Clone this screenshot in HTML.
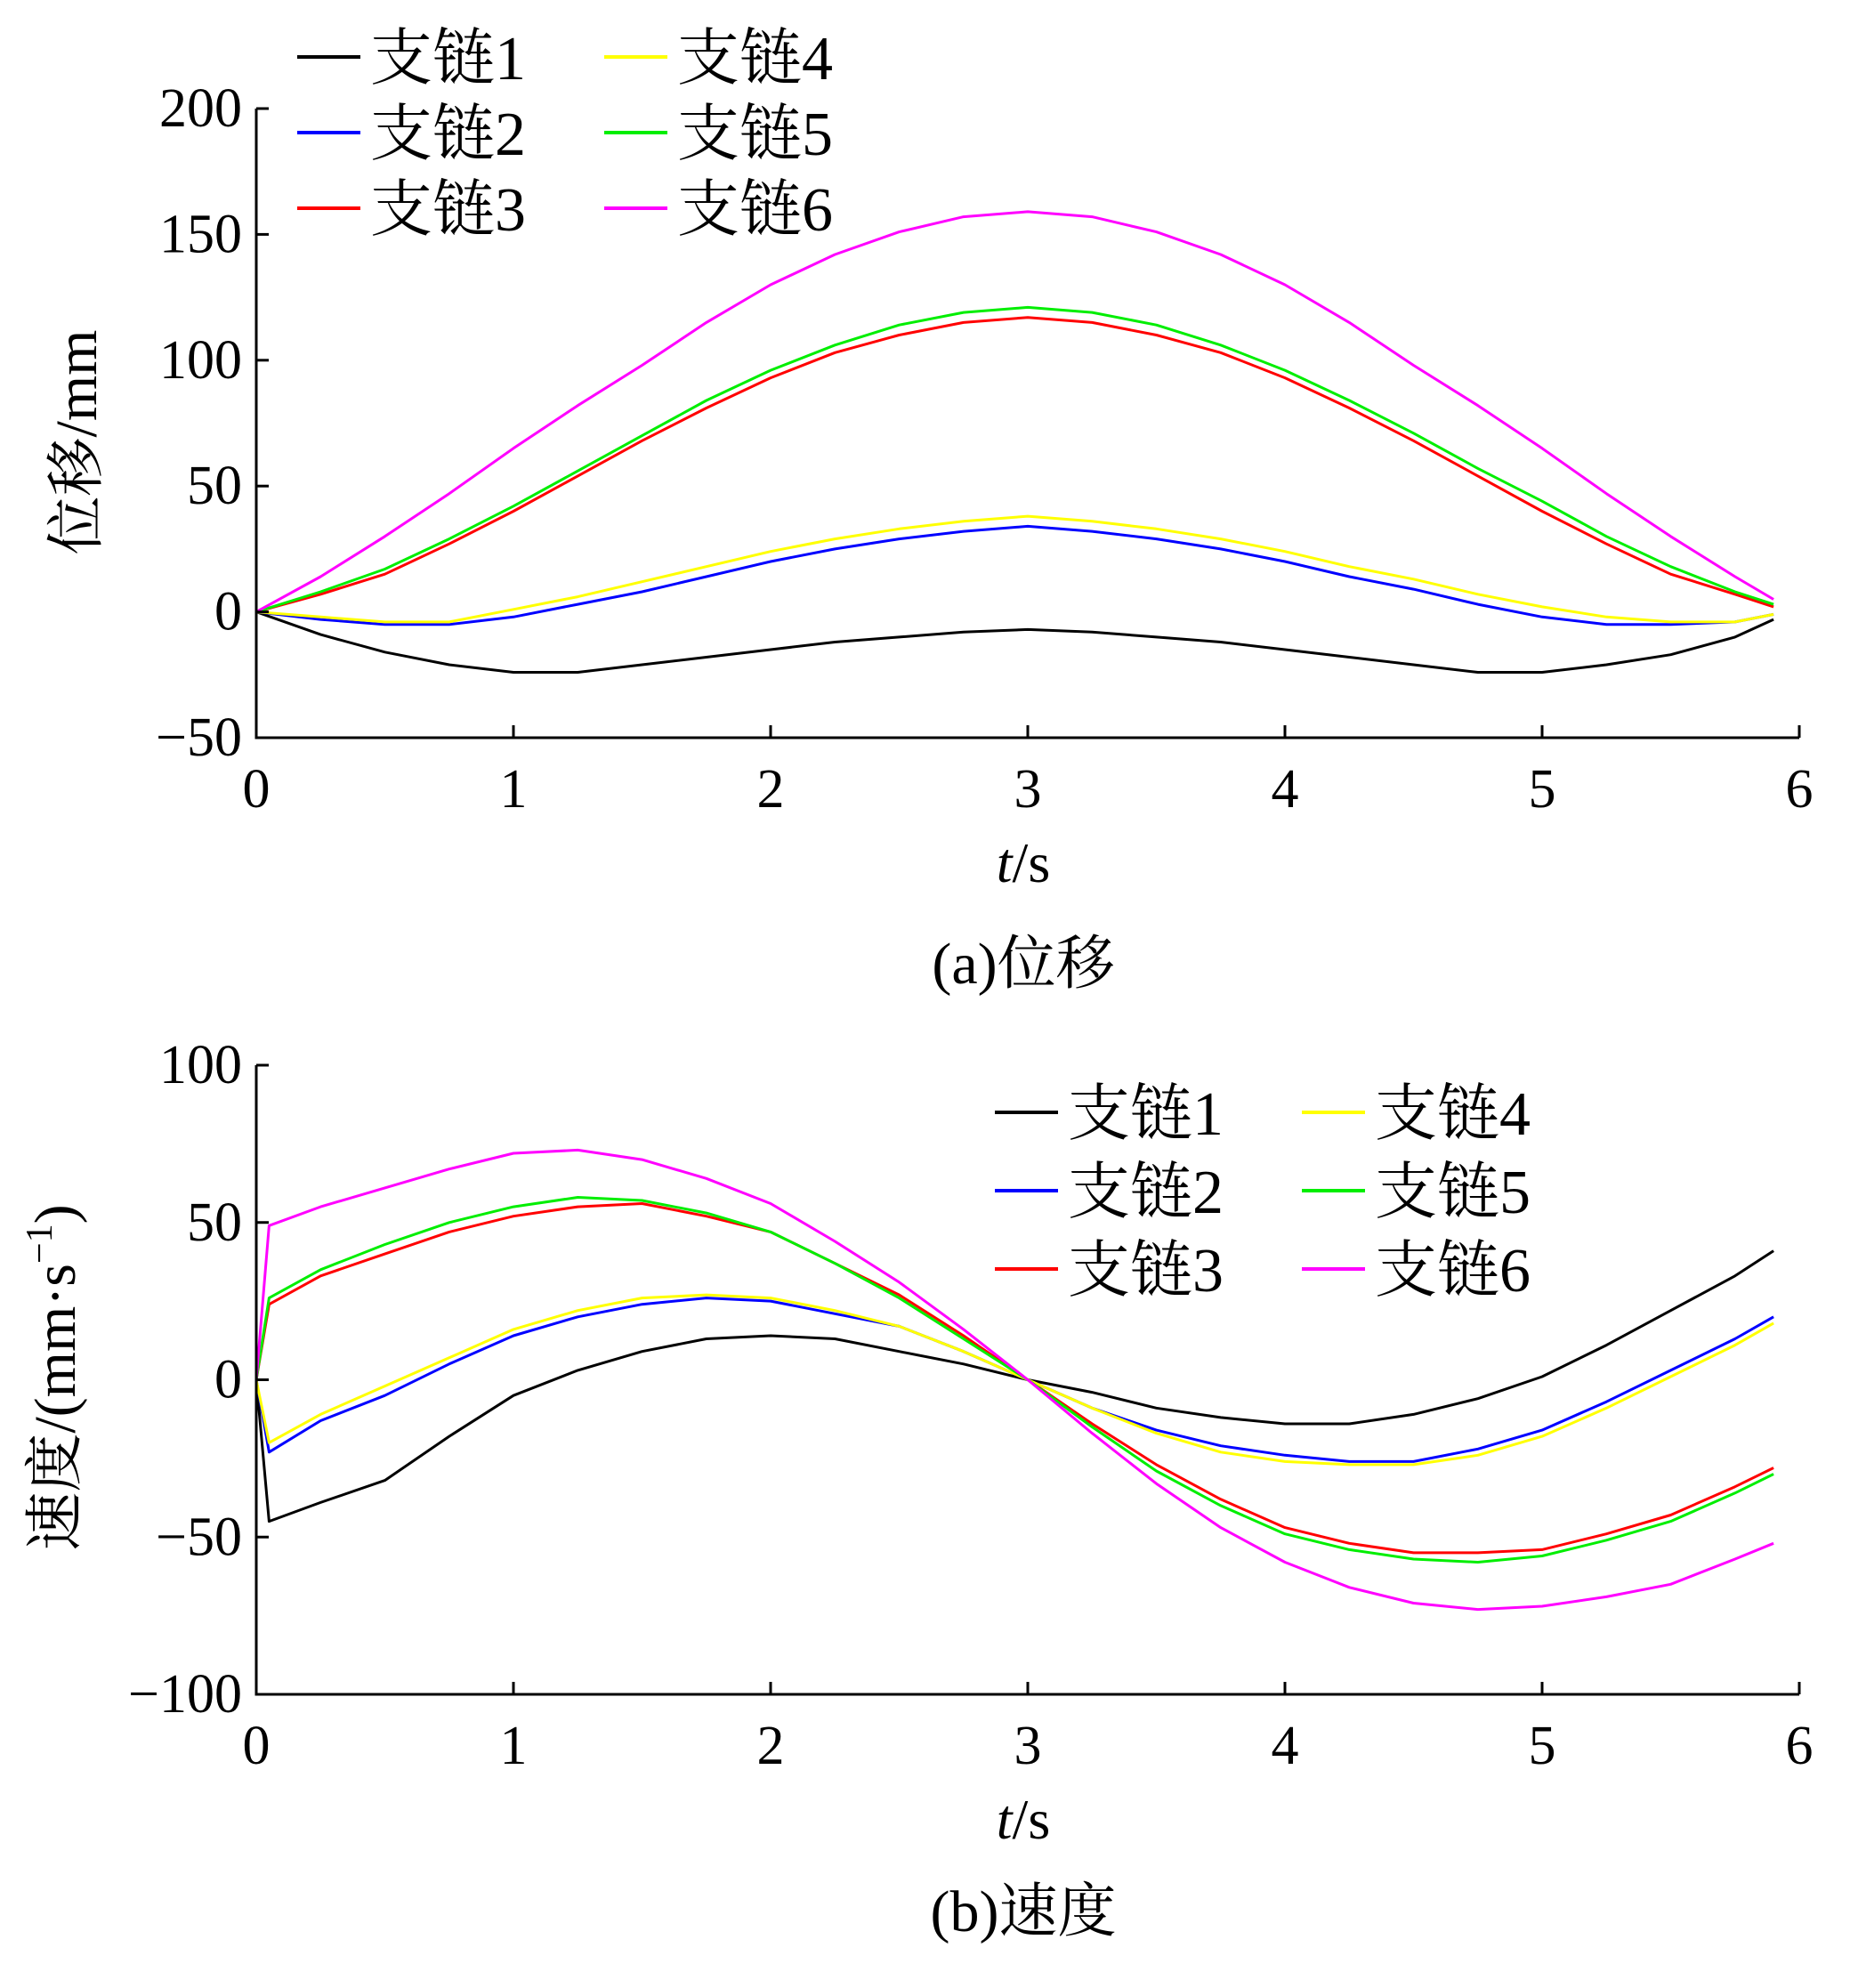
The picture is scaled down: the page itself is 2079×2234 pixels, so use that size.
<!DOCTYPE html>
<html><head><meta charset="utf-8">
<style>
html,body{margin:0;padding:0;background:#fff;}
svg{display:block;font-family:"Liberation Serif","Noto Serif CJK SC","Noto Sans CJK SC",serif;}
</style></head>
<body>
<svg id="chart" width="2079" height="2234" viewBox="0 0 2079 2234" xmlns="http://www.w3.org/2000/svg"></svg>
<script>
const xTicks=[0,1,2,3,4,5,6];
const seriesNames=["支链1","支链2","支链3","支链4","支链5","支链6"];
const seriesColors=["#000000","#0000ff","#ff0000","#ffff00","#00ee00","#ff00ff"];
const dispTimes=[0,0.25,0.5,0.75,1,1.25,1.5,1.75,2,2.25,2.5,2.75,3,3.25,3.5,3.75,4,4.25,4.5,4.75,5,5.25,5.5,5.75,5.9];
const disp1=[0,-9,-16,-21,-24,-24,-21,-18,-15,-12,-10,-8,-7,-8,-10,-12,-15,-18,-21,-24,-24,-21,-17,-10,-3];
const disp2=[0,-3,-5,-5,-2,3,8,14,20,25,29,32,34,32,29,25,20,14,9,3,-2,-5,-5,-4,-1];
const disp3=[0,7,15,27,40,54,68,81,93,103,110,115,117,115,110,103,93,81,68,54,40,27,15,7,2];
const disp4=[0,-2,-4,-4,1,6,12,18,24,29,33,36,38,36,33,29,24,18,13,7,2,-2,-4,-4,-1];
const disp5=[0,8,17,29,42,56,70,84,96,106,114,119,121,119,114,106,96,84,71,57,44,30,18,8,3];
const disp6=[0,14,30,47,65,82,98,115,130,142,151,157,159,157,151,142,130,115,98,82,65,47,30,14,5];
const dispYTicks=[-50,0,50,100,150,200];
const velTimes=[0,0.05,0.25,0.5,0.75,1,1.25,1.5,1.75,2,2.25,2.5,2.75,3,3.25,3.5,3.75,4,4.25,4.5,4.75,5,5.25,5.5,5.75,5.9];
const vel1=[0,-45,-39,-32,-18,-5,3,9,13,14,13,9,5,0,-4,-9,-12,-14,-14,-11,-6,1,11,22,33,41];
const vel2=[0,-23,-13,-5,5,14,20,24,26,25,21,17,9,0,-9,-16,-21,-24,-26,-26,-22,-16,-7,3,13,20];
const vel3=[0,24,33,40,47,52,55,56,52,47,37,27,14,0,-14,-27,-38,-47,-52,-55,-55,-54,-49,-43,-34,-28];
const vel4=[0,-20,-11,-2,7,16,22,26,27,26,22,17,9,0,-9,-17,-23,-26,-27,-27,-24,-18,-9,1,11,18];
const vel5=[0,26,35,43,50,55,58,57,53,47,37,26,13,0,-15,-29,-40,-49,-54,-57,-58,-56,-51,-45,-36,-30];
const vel6=[0,49,55,61,67,72,73,70,64,56,44,31,16,0,-17,-33,-47,-58,-66,-71,-73,-72,-69,-65,-57,-52];
const velYTicks=[-100,-50,0,50,100];

const NS="http://www.w3.org/2000/svg";
const svg=document.getElementById('chart');
function mk(tag,attrs,parent,text){const e=document.createElementNS(NS,tag);for(const k in attrs)e.setAttribute(k,attrs[k]);if(text!==undefined)e.textContent=text;(parent||svg).appendChild(e);return e;}

function panel(cfg){
  const g=mk('g',{});
  
  
  const L=288,R=2022,T=cfg.top,B=cfg.bottom;
  const xs=t=>L+(t-0)/6*(R-L);
  const ys=v=>B-(v-cfg.ymin)/(cfg.ymax-cfg.ymin)*(B-T);
  cfg.series.forEach((vals,i)=>{
    const d=vals.map((v,j)=>(j?'L':'M')+xs(cfg.times[j]).toFixed(1)+' '+ys(v).toFixed(1)).join(' ');
    const p=mk('path',{d:d,fill:'none',stroke:seriesColors[i],'stroke-width':3,'stroke-linejoin':'round'},g);
    
    
  });
  const ax=mk('path',{d:`M${L} ${T} L${L} ${B} L${R} ${B}`,fill:'none',stroke:'#000','stroke-width':3},g);
  
  
  xTicks.forEach(t=>{
    const tk=mk('line',{x1:xs(t),x2:xs(t),y1:B,y2:B-14,stroke:'#000','stroke-width':3},g);
    
    
    const lb=mk('text',{x:xs(t),y:B+78,'text-anchor':'middle','font-size':62},g,String(t));
    
    
  });
  cfg.yticks.forEach(v=>{
    const tk=mk('line',{x1:L,x2:L+14,y1:ys(v),y2:ys(v),stroke:'#000','stroke-width':3},g);
    
    
    const lb=mk('text',{x:272,y:ys(v)+20,'text-anchor':'end','font-size':62},g,v<0?'\u2212'+Math.abs(v):String(v));
    
    
  });
  const xt=mk('text',{x:1150,y:B+162,'text-anchor':'middle','font-size':64},g);
  
  
  mk('tspan',{'font-style':'italic'},xt,'t');
  mk('tspan',{},xt,'/s');
  const yt=mk('text',{x:0,y:0,'text-anchor':'middle','font-size':cfg.ytSize,transform:`translate(${cfg.ytX},${cfg.ytY}) rotate(-90)`},g);
  
  
  cfg.ytParts.forEach(pt=>mk('tspan',pt[1],yt,pt[0]));
  const cap=mk('text',{x:1150,y:cfg.capY,'text-anchor':'middle','font-size':66},g,cfg.caption);
  
  
  const lg=mk('g',{},g);
  
  
  seriesNames.forEach((n,i)=>{
    const col=Math.floor(i/3),row=i%3;
    const lx=cfg.legX[col],ly=cfg.legY[row];
    const e=mk('g',{},lg);
    
    
    mk('line',{x1:lx,x2:lx+71,y1:ly,y2:ly,stroke:seriesColors[i],'stroke-width':4},e);
    mk('text',{x:lx+82,y:ly+25,'font-size':70},e,n);
  });
}
panel({name:'displacement-panel',top:122,bottom:829,ymin:-50,ymax:200,times:dispTimes,
  series:[disp1,disp2,disp3,disp4,disp5,disp6],yticks:dispYTicks,
  ytX:108,ytY:497,ytSize:66,ytParts:[['位移/mm',{}]],capY:1105,caption:'(a)位移',
  legX:[334,679],legY:[64,149,234]});
panel({name:'velocity-panel',top:1197,bottom:1904,ymin:-100,ymax:100,times:velTimes,
  series:[vel1,vel2,vel3,vel4,vel5,vel6],yticks:velYTicks,
  ytX:84,ytY:1548,ytSize:66,ytParts:[['速度/(mm·s',{}],['\u22121',{'font-size':42,dy:-26}],[')',{dy:26}]],capY:2170,caption:'(b)速度',
  legX:[1118,1463],legY:[1250,1338,1426]});
</script>
</body></html>
